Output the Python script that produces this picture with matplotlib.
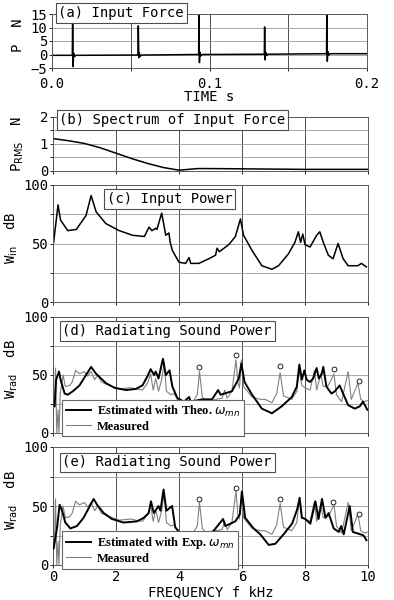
import numpy as np
import matplotlib
matplotlib.use('Agg')
import matplotlib.pyplot as plt
from matplotlib.ticker import MultipleLocator

plt.rcParams['font.family'] = ['DejaVu Sans Mono']
plt.rcParams['mathtext.fontset'] = 'dejavusans'

# (a) input force pulses
pulse_t = [0.0131, 0.0548, 0.0933, 0.1350, 0.1745]
pulse_hi = [12.4, 10.6, 15.0, 10.2, 15.0]
pulse_lo = [-4.5, -1.2, -3.0, -2.0, -2.5]
pulse_base = [-0.3, -0.2, 0.0, 0.1, 0.3]

# (b) spectrum of input force
fb = [0.0, 0.5, 1.0, 1.5, 2.0, 2.5, 3.0, 3.5, 4.0, 4.3, 4.6, 5.0, 6.0, 7.0, 8.0, 9.0, 10.0]
pb = [1.2, 1.12, 1.02, 0.86, 0.66, 0.46, 0.28, 0.13, 0.03, 0.06, 0.09, 0.09, 0.08, 0.07, 0.06, 0.06, 0.06]

# (c) input power
fc = [0.02, 0.16, 0.24, 0.47, 0.74, 1.05, 1.21, 1.37, 1.68, 2.1, 2.53, 2.9, 3.05, 3.14, 3.26,
      3.3, 3.45, 3.58, 3.68, 3.72, 3.79, 4.0, 4.21, 4.32, 4.37, 4.63, 4.95, 5.16, 5.21, 5.28,
      5.58, 5.79, 5.95, 6.05, 6.32, 6.63, 6.95, 7.16, 7.47, 7.68, 7.79, 7.86, 7.93, 8.0, 8.16,
      8.37, 8.47, 8.58, 8.74, 8.89, 9.05, 9.21, 9.37, 9.68, 9.79, 9.95]
wc = [51, 83, 70, 61, 62, 74, 91, 77, 67, 61, 57, 56, 64, 61, 63,
      62, 76, 57, 59, 51, 44, 34, 33, 38, 33, 33, 37, 40, 46, 43,
      49, 56, 71, 57, 44, 31, 28, 31, 41, 51, 60, 51, 58, 49, 47,
      57, 60, 51, 40, 37, 50, 37, 31, 31, 33, 30]

# measured radiating sound power (d, e)
fm = [0.0, 0.05, 0.08, 0.12, 0.16, 0.19, 0.23, 0.32, 0.39, 0.53, 0.61, 0.72, 0.84, 1.0, 1.1,
      1.21, 1.32, 1.42, 1.53, 1.79, 2.1, 2.47, 2.63, 2.84, 3.0, 3.1, 3.18, 3.26, 3.35, 3.45,
      3.53, 3.6, 3.74, 3.84, 4.0, 4.21, 4.37, 4.58, 4.65, 4.74, 4.9, 5.16, 5.37, 5.45, 5.53,
      5.68, 5.81, 5.87, 5.92, 5.98, 6.05, 6.32, 6.58, 6.74, 6.95, 7.1, 7.21, 7.32, 7.58, 7.74,
      7.81, 7.9, 8.0, 8.16, 8.3, 8.37, 8.5, 8.58, 8.74, 8.92, 9.0, 9.16, 9.37, 9.47, 9.68,
      9.77, 9.89, 9.98]
wm = [22, 23, 56, 0, 20, 0, 34, 50, 40, 41, 44, 54, 51, 53, 49,
      53, 46, 50, 44, 41, 38, 39, 38, 37, 43, 51, 37, 47, 36, 46,
      61, 36, 33, 34, 27, 24, 24, 33, 53, 31, 26, 29, 30, 37, 30,
      36, 63, 43, 39, 63, 40, 31, 29, 29, 26, 34, 52, 32, 29, 36,
      54, 41, 39, 37, 54, 37, 51, 40, 41, 51, 33, 27, 53, 29, 43,
      29, 27, 28]

# (d) estimated with theoretical omega_mn
fd = [0.05, 0.1, 0.19, 0.24, 0.37, 0.47, 0.63, 0.84, 1.05, 1.21, 1.37, 1.68, 1.95, 2.32, 2.63,
      2.84, 3.0, 3.1, 3.21, 3.26, 3.35, 3.49, 3.58, 3.7, 3.79, 3.95, 4.16, 4.32, 4.37, 4.74,
      5.05, 5.24, 5.32, 5.68, 5.9, 5.98, 6.08, 6.32, 6.63, 6.95, 7.26, 7.58, 7.74, 7.82, 7.9,
      7.98, 8.05, 8.16, 8.26, 8.37, 8.44, 8.53, 8.58, 8.68, 8.84, 8.95, 9.1, 9.21, 9.37, 9.58,
      9.74, 9.84, 9.98]
wd = [23, 46, 53, 46, 34, 33, 36, 41, 50, 57, 51, 43, 39, 37, 38,
      41, 49, 55, 50, 53, 47, 64, 50, 54, 40, 30, 27, 31, 27, 29,
      29, 37, 33, 36, 47, 60, 44, 33, 21, 17, 23, 31, 40, 59, 46,
      54, 46, 44, 47, 56, 47, 51, 57, 40, 34, 36, 41, 34, 24, 21,
      23, 27, 20]

# (e) estimated with experimental omega_mn
fe = [0.02, 0.13, 0.21, 0.29, 0.39, 0.55, 0.76, 0.97, 1.19, 1.29, 1.4, 1.61, 1.87, 2.24, 2.67,
      2.88, 3.04, 3.11, 3.2, 3.35, 3.41, 3.51, 3.6, 3.78, 3.88, 4.1, 4.41, 4.47, 4.78, 5.1,
      5.4, 5.47, 5.79, 5.93, 6.0, 6.1, 6.37, 6.58, 6.85, 7.06, 7.32, 7.59, 7.75, 7.83, 7.9,
      8.01, 8.17, 8.33, 8.43, 8.54, 8.65, 8.75, 8.91, 9.07, 9.15, 9.23, 9.42, 9.52, 9.76, 9.86,
      9.95]
we = [14, 32, 51, 46, 36, 31, 33, 40, 51, 56, 51, 44, 39, 36, 37,
      40, 44, 54, 44, 50, 46, 64, 46, 50, 32, 25, 28, 23, 24, 29,
      39, 33, 37, 43, 62, 40, 31, 26, 17, 18, 26, 35, 47, 57, 40,
      39, 35, 54, 39, 56, 40, 44, 31, 28, 33, 26, 50, 28, 26, 25,
      21]

# circled peaks
fo_d = [4.63, 5.82, 7.21, 8.92, 9.72]
wo_d = [57, 67.5, 57.5, 55.5, 45]
fo_e = [4.62, 5.82, 7.22, 8.88, 9.72]
wo_e = [56, 65, 56, 53, 43]

W, H = 394, 600
fig = plt.figure(figsize=(W / 100, H / 100), dpi=100)


def box(left, top, right, bottom):
    return [left / W, 1 - bottom / H, (right - left) / W, (bottom - top) / H]


def style(ax):
    ax.tick_params(labelsize=10, length=2.5, width=0.6, direction='out', pad=1)
    ax.tick_params(which='minor', length=2, width=0.6)
    ax.grid(True, axis='x', which='major', color='0.3', lw=0.7)
    ax.grid(True, axis='y', which='both', color='0.6', lw=0.6)
    for s in ax.spines.values():
        s.set_color('0.35')
        s.set_linewidth(0.7)


def title(ax, x, y, s):
    ax.text(x, y, s, transform=ax.transAxes, fontsize=10, va='center', ha='left', zorder=10,
            bbox=dict(boxstyle='square,pad=0.2', fc='white', ec='0.3', lw=0.8))


# (a)
ax = fig.add_axes(box(52, 14, 367, 68))
t = [0.0]
p = [pulse_base[0]]
for ti, hi, lo, b in zip(pulse_t, pulse_hi, pulse_lo, pulse_base):
    t += [ti - 0.0002, ti, ti + 0.0003, ti + 0.0006, ti + 0.0012, ti + 0.002]
    p += [b, hi, lo, b + 0.8, b - 0.5, b]
t.append(0.2)
p.append(0.3)
ax.plot(t, p, color='k', lw=1.1)
ax.set_xlim(0, 0.2)
ax.set_ylim(-5, 15)
ax.set_xticks([0, 0.1, 0.2])
ax.set_xticklabels(['0.0', '0.1', '0.2'])
ax.xaxis.set_minor_locator(MultipleLocator(0.05))
ax.set_yticks([-5, 0, 5, 10, 15])
style(ax)
ax.tick_params(axis='x', pad=4)
ax.grid(True, axis='x', which='minor', color='0.3', lw=0.7)
ax.set_xlabel('TIME s', fontsize=10, labelpad=-1)
ax.set_ylabel('P  N', fontsize=10)
ax.yaxis.set_label_coords(-0.085, 0.6)
title(ax, 0.02, 1.02, '(a) Input Force')

# (b)
ax = fig.add_axes(box(53, 117, 368, 171))
ax.plot(fb, pb, color='k', lw=1.1)
ax.set_xlim(0, 10)
ax.set_ylim(0, 2)
ax.xaxis.set_major_locator(MultipleLocator(2))
ax.set_xticklabels([])
ax.set_yticks([0, 1, 2])
ax.yaxis.set_minor_locator(MultipleLocator(0.5))
style(ax)
ax.set_ylabel(r'P$_{\mathrm{RMS}}$  N', fontsize=10)
ax.yaxis.set_label_coords(-0.085, 0.5)
title(ax, 0.02, 0.94, '(b) Spectrum of Input Force')

# (c), (d), (e)
panels = [
    (185, 302, fc, wc, None, None, None, None, r'W$_{\mathrm{in}}$  dB', '(c) Input Power', 0.17, 0.88),
    (317, 433, fm, wm, fd, wd, fo_d, wo_d, r'W$_{\mathrm{rad}}$  dB', '(d) Radiating Sound Power', 0.03, 0.88),
    (447, 565, fm, wm, fe, we, fo_e, wo_e, r'W$_{\mathrm{rad}}$  dB', '(e) Radiating Sound Power', 0.03, 0.87),
]
labels = [None, r'Estimated with Theo. $\omega_{mn}$', r'Estimated with Exp. $\omega_{mn}$']
for i, (top, bot, f1, w1, f2, w2, fo, wo, ylab, tt, tx, ty) in enumerate(panels):
    ax = fig.add_axes(box(53, top, 368, bot))
    if f2 is None:
        ax.plot(f1, w1, color='k', lw=1.1)
    else:
        ax.plot(f1, w1, color='0.5', lw=0.8, label='Measured', zorder=3)
        ax.plot(f2, w2, color='k', lw=1.4, label=labels[i], zorder=4)
        ax.plot(fo, wo, 'o', ms=3.5, mfc='white', mec='k', mew=0.6, zorder=5)
        h, l = ax.get_legend_handles_labels()
        leg = ax.legend(h[::-1], l[::-1], loc='lower left', bbox_to_anchor=(0.028, -0.03),
                        prop={'family': 'Liberation Serif', 'weight': 'bold', 'size': 9},
                        fancybox=False, edgecolor='0.4', framealpha=1, borderpad=0.3,
                        handlelength=2.0, handletextpad=0.5, labelspacing=0.15, borderaxespad=0)
        leg.get_frame().set_linewidth(0.8)
        leg.set_zorder(8)
    ax.set_xlim(0, 10)
    ax.set_ylim(0, 100)
    ax.xaxis.set_major_locator(MultipleLocator(2))
    ax.set_yticks([0, 50, 100])
    ax.yaxis.set_minor_locator(MultipleLocator(25))
    style(ax)
    if i < 2:
        ax.set_xticklabels([])
    else:
        ax.set_xticks([0, 2, 4, 6, 8, 10])
        ax.set_xlabel('FREQUENCY f kHz', fontsize=10, labelpad=1)
    ax.set_ylabel(ylab, fontsize=10)
    ax.yaxis.set_label_coords(-0.105, 0.55)
    title(ax, tx, ty, tt)

fig.savefig('out.png', dpi=100)
